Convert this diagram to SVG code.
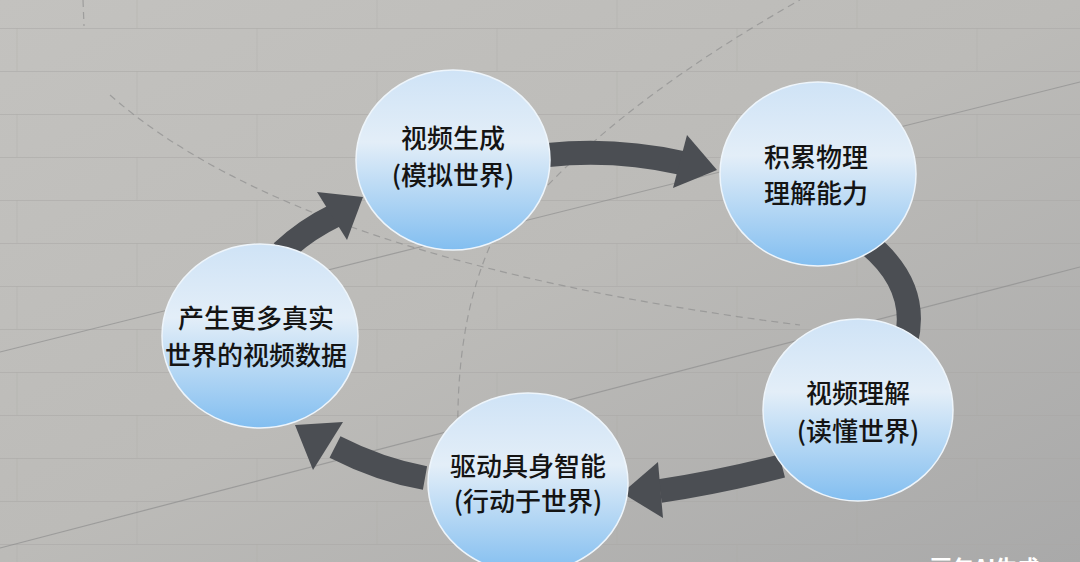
<svg xmlns="http://www.w3.org/2000/svg" width="1080" height="562" viewBox="0 0 1080 562">
  <defs>
    <linearGradient id="bg" x1="0" y1="0" x2="1" y2="1">
      <stop offset="0" stop-color="#c3c2bf"/>
      <stop offset="0.5" stop-color="#bcbbb8"/>
      <stop offset="1" stop-color="#a9a9a9"/>
    </linearGradient>
    <pattern id="bricks" x="0" y="28" width="240" height="86" patternUnits="userSpaceOnUse">
      <line x1="0" y1="0.5" x2="240" y2="0.5" stroke="#a9a8a5" stroke-width="1.2" opacity="0.55"/>
      <line x1="0" y1="43.5" x2="240" y2="43.5" stroke="#a9a8a5" stroke-width="1.2" opacity="0.55"/>
      <line x1="17" y1="0" x2="17" y2="43" stroke="#a9a8a5" stroke-width="1" opacity="0.35"/>
      <line x1="137" y1="43" x2="137" y2="86" stroke="#a9a8a5" stroke-width="1" opacity="0.35"/>
    </pattern>
    <linearGradient id="ball" x1="0" y1="0" x2="0" y2="1">
      <stop offset="0" stop-color="#cfe3f6"/>
      <stop offset="0.4" stop-color="#e3eef8"/>
      <stop offset="1" stop-color="#82bef0"/>
    </linearGradient>
    <style>
      .node { fill: url(#ball); stroke: #eef5fb; stroke-width: 1.5; }
      .label { font-family: "Noto Sans CJK SC", "Noto Sans", sans-serif; font-size: 26px; font-weight: 500; fill: #141414; text-anchor: middle; }
      .shaft { fill: none; stroke: #4b4e53; stroke-width: 24; }
      .head { fill: #4b4e53; }
      .deco { fill: none; stroke: #8f8f8f; stroke-width: 1.2; opacity: 0.7; }
      .dash { stroke-dasharray: 7 5; }
    </style>
  </defs>

  <rect width="1080" height="562" fill="url(#bg)"/>
  <rect width="1080" height="562" fill="url(#bricks)"/>

  <g id="background-lines">
    <line class="deco" x1="0" y1="352" x2="1080" y2="82"/>
    <line class="deco" x1="0" y1="548" x2="1080" y2="267"/>
    <path class="deco dash" d="M 110,95 Q 300,262 800,325"/>
    <path class="deco dash" d="M 548,185 Q 640,90 800,0"/>
    <path class="deco dash" d="M 500,225 Q 455,310 458,440"/>
    <line class="deco dash" x1="83" y1="0" x2="84" y2="26"/>
  </g>

  <g id="connectors">
    <path class="shaft" d="M 548,155 Q 615,148 682,163"/>
    <polygon class="head" points="687,135 717,170 673,188"/>
    <path class="shaft" d="M 866,242 Q 920,285 906,342" stroke-width="26"/>
    <path class="shaft" d="M 782,466 Q 720,482 660,491"/>
    <polygon class="head" points="658,462 622,493 663,518"/>
    <path class="shaft" d="M 425,478 Q 380,470 335,447"/>
    <polygon class="head" points="343,422 295,425 313,470"/>
    <path class="shaft" d="M 282,252 Q 305,230 336,215"/>
    <polygon class="head" points="317,192 363,197 347,240"/>
  </g>

  <g id="node-generate">
    <ellipse class="node" cx="453" cy="160" rx="97" ry="90"/>
    <text class="label" x="453" y="148">视频生成</text>
    <text class="label" x="453" y="185">(模拟世界)</text>
  </g>
  <g id="node-physics">
    <ellipse class="node" cx="818" cy="174" rx="98" ry="92"/>
    <text class="label" x="816" y="167">积累物理</text>
    <text class="label" x="816" y="203">理解能力</text>
  </g>
  <g id="node-understand">
    <ellipse class="node" cx="858" cy="410" rx="95" ry="91"/>
    <text class="label" x="858" y="403">视频理解</text>
    <text class="label" x="858" y="441">(读懂世界)</text>
  </g>
  <g id="node-embodied">
    <ellipse class="node" cx="528" cy="483" rx="100" ry="90"/>
    <text class="label" x="528" y="476">驱动具身智能</text>
    <text class="label" x="528" y="511">(行动于世界)</text>
  </g>
  <g id="node-data">
    <ellipse class="node" cx="260" cy="336" rx="98" ry="92"/>
    <text class="label" x="256" y="328">产生更多真实</text>
    <text class="label" x="256" y="365">世界的视频数据</text>
  </g>

  <text x="930" y="576" font-family="Noto Sans CJK SC, sans-serif" font-size="22" font-weight="700" fill="#ffffff">豆包AI生成</text>
</svg>
